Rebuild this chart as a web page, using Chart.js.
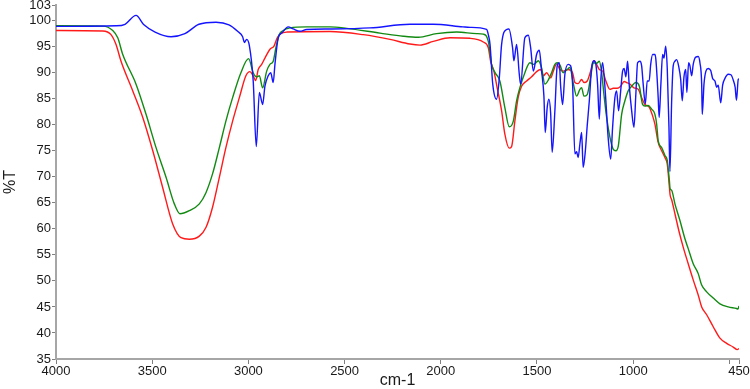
<!DOCTYPE html>
<html>
<head>
<meta charset="utf-8">
<script src="https://cdn.jsdelivr.net/npm/chart.js@4"></script>
<style>
  html, body { margin: 0; padding: 0; background: #fff; }
  #wrap { width: 750px; height: 389px; }
</style>
</head>
<body>
<div id="wrap"><canvas id="ir"></canvas></div>
<script>
// axis ticks
const xTicks = [4000, 3500, 3000, 2500, 2000, 1500, 1000, 500, 450];
const yTicks = [35, 40, 45, 50, 55, 60, 65, 70, 75, 80, 85, 90, 95, 100, 103];

// blue spectrum (wavenumber cm-1, %T)
const blueWn = [4000, 3688, 3641, 3584, 3543, 3485, 3402, 3330, 3257, 3168, 3101, 3056, 3030, 3021, 3009, 2995,
  2975, 2959, 2943, 2926, 2914, 2897, 2884, 2871, 2862, 2845, 2827, 2793, 2767, 2732, 2697, 2576, 2368, 2160,
  2041, 1885, 1848, 1762, 1753, 1744, 1730, 1710, 1696, 1684, 1658, 1646, 1627, 1620, 1606, 1592, 1585, 1563,
  1545, 1533, 1519, 1502, 1488, 1476, 1464, 1457, 1447, 1438, 1429, 1421, 1407, 1395, 1384, 1377, 1367, 1355,
  1338, 1325, 1315, 1303, 1294, 1286, 1277, 1268, 1260, 1249, 1239, 1228, 1216, 1204, 1194, 1185, 1176, 1168,
  1159, 1150, 1142, 1130, 1117, 1107, 1095, 1086, 1076, 1065, 1055, 1047, 1038, 1029, 1021, 1008, 996, 986,
  977, 965, 956, 948, 937, 927, 917, 909, 899, 887, 882, 870, 865, 856, 847, 840, 831, 823, 814, 809, 800, 792,
  783, 774, 764, 753, 745, 736, 727, 721, 712, 705, 696, 688, 675, 662, 653, 644, 641, 632, 622, 610, 597, 587,
  575, 566, 558, 545, 535, 523, 506, 492, 480, 470, 463, 454, 450];
const blueT = [98.9, 99.0, 99.3, 101.0, 99.2, 97.8, 96.9, 97.5, 99.3, 99.7, 99.2, 97.95, 96.9, 95.8, 96.4, 95.2,
  88.4, 75.8, 86.2, 83.9, 87.4, 89.4, 90.0, 88.1, 91.6, 96.7, 97.6, 98.8, 98.4, 97.95, 98.3, 98.4, 98.6, 99.3,
  99.3, 98.8, 98.7, 98.3, 97.3, 95.4, 87.8, 84.9, 88.9, 95.4, 98.3, 98.4, 94.8, 92.3, 95.4, 89.7, 87.8, 96.7,
  97.2, 94.8, 90.3, 93.5, 94.3, 90.3, 85.5, 78.5, 83.3, 84.9, 82.2, 74.7, 82.7, 91.3, 91.9, 87.4, 83.9, 89.7,
  91.6, 91.3, 87.8, 74.4, 74.8, 73.7, 76.3, 78.5, 71.8, 74.8, 79.8, 84.6, 91.0, 92.3, 91.6, 87.8, 81.1, 88.7,
  91.9, 88.9, 84.6, 77.5, 73.4, 79.5, 85.2, 86.5, 82.7, 86.5, 90.3, 90.8, 89.2, 92.2, 87.8, 82.7, 79.5, 86.0,
  91.9, 92.2, 91.3, 87.8, 84.0, 88.4, 88.4, 91.6, 93.5, 93.5, 92.5, 85.2, 81.4, 87.8, 93.5, 92.8, 95.1, 90.9,
  79.5, 71.0, 84.6, 91.3, 92.2, 92.5, 91.3, 88.7, 84.6, 89.2, 90.6, 86.2, 91.9, 91.3, 89.4, 91.6, 93.0, 93.1,
  91.9, 87.8, 82.0, 87.8, 90.3, 90.8, 90.4, 88.9, 88.4, 87.2, 87.6, 84.2, 87.6, 88.9, 89.7, 89.6, 88.6, 87.2,
  84.7, 88.7, 88.8];

// green spectrum
const greenWn = [4000, 3757, 3705, 3679, 3653, 3584, 3532, 3480, 3428, 3385, 3356, 3307, 3255, 3220, 3186, 3151,
  3117, 3082, 3039, 2999, 2975, 2957, 2943, 2926, 2905, 2888, 2871, 2857, 2840, 2819, 2784, 2697, 2576, 2489,
  2316, 2195, 2117, 2022, 1917, 1814, 1779, 1753, 1736, 1718, 1693, 1667, 1644, 1623, 1606, 1589, 1563, 1537,
  1516, 1493, 1476, 1459, 1441, 1424, 1407, 1395, 1381, 1364, 1343, 1329, 1312, 1294, 1277, 1268, 1256, 1239,
  1221, 1207, 1190, 1176, 1164, 1152, 1138, 1121, 1104, 1090, 1077, 1060, 1043, 1026, 1008, 986, 968, 951, 939,
  922, 904, 887, 878, 870, 852, 835, 823, 817, 812, 808, 800, 783, 757, 731, 714, 688, 662, 644, 618, 584, 549,
  506, 463, 455, 450];
const greenT = [99.0, 98.95, 98.1, 96.7, 93.5, 87.8, 82.0, 75.6, 69.9, 64.8, 62.9, 63.5, 64.8, 67.0, 70.6, 75.6,
  80.7, 85.2, 90.0, 92.7, 90.0, 89.2, 89.4, 87.1, 90.3, 91.6, 92.2, 94.8, 97.3, 98.1, 98.6, 98.8, 98.8, 98.5,
  97.6, 97.0, 96.8, 97.5, 97.8, 97.5, 97.4, 96.0, 91.6, 90.0, 88.4, 83.3, 79.6, 80.7, 84.6, 87.1, 90.0, 91.9,
  91.6, 92.3, 90.9, 87.8, 88.6, 90.0, 91.6, 91.9, 91.5, 90.0, 90.6, 91.0, 88.1, 85.5, 86.8, 87.1, 85.5, 85.8,
  89.2, 91.9, 91.8, 92.2, 90.0, 85.8, 81.4, 77.6, 75.3, 75.0, 76.0, 82.0, 84.6, 86.5, 87.4, 88.1, 87.4, 83.9, 83.6,
  83.7, 83.0, 82.0, 80.1, 76.9, 75.6, 74.1, 73.2, 71.2, 69.3, 67.7, 67.4, 64.8, 61.6, 58.1, 56.2, 53.3, 51.4, 49.2,
  47.9, 46.7, 45.6, 45.0, 44.7, 44.6, 45.2];

// red spectrum
const redWn = [4000, 3757, 3714, 3688, 3662, 3601, 3549, 3497, 3446, 3394, 3350, 3307, 3255, 3220, 3186, 3151,
  3117, 3082, 3047, 3013, 2992, 2975, 2962, 2949, 2931, 2914, 2888, 2867, 2850, 2832, 2801, 2576, 2403, 2264,
  2160, 2108, 2039, 1952, 1848, 1779, 1753, 1741, 1724, 1707, 1684, 1667, 1644, 1632, 1615, 1598, 1580, 1554,
  1528, 1502, 1481, 1467, 1450, 1429, 1415, 1398, 1381, 1364, 1338, 1315, 1303, 1286, 1268, 1256, 1239, 1221,
  1204, 1190, 1176, 1159, 1142, 1121, 1104, 1083, 1065, 1047, 1034, 1017, 996, 974, 956, 939, 917, 899, 887, 870,
  852, 835, 823, 816, 808, 800, 783, 761, 740, 714, 688, 662, 644, 618, 584, 549, 514, 480, 459, 450];
const redT = [98.1, 98.0, 97.3, 95.4, 92.2, 86.5, 81.4, 75.0, 68.0, 61.0, 58.3, 58.0, 58.6, 60.3, 64.2, 69.9,
  75.6, 80.7, 85.2, 89.4, 90.2, 89.4, 88.5, 90.6, 91.6, 92.8, 94.5, 95.1, 96.7, 97.5, 97.8, 97.9, 97.3, 96.4,
  95.5, 95.3, 96.0, 96.7, 96.6, 95.9, 94.8, 92.2, 90.3, 87.1, 82.7, 78.2, 75.5, 75.8, 80.7, 85.2, 87.4, 88.4,
  89.2, 90.2, 90.6, 89.4, 90.0, 89.0, 90.3, 91.7, 90.6, 90.3, 90.6, 90.0, 88.1, 87.9, 88.7, 88.1, 88.4, 90.3,
  92.3, 91.6, 90.6, 90.3, 88.4, 86.8, 87.0, 87.0, 87.4, 88.3, 88.1, 87.8, 87.1, 86.8, 85.2, 83.9, 83.4, 81.7, 80.1,
  76.6, 75.0, 73.7, 72.5, 69.9, 66.5, 65.6, 62.9, 59.4, 56.5, 53.3, 50.2, 47.3, 45.0, 43.5, 41.2, 39.0, 38.0, 37.3,
  36.8, 37.0];

function pts(xs, ys) {
  return xs.map((x, i) => ({ x: x, y: ys[i] }));
}

const axisFont = { family: 'Liberation Sans, Arial, sans-serif', size: 13 };
const titleFont = { family: 'Liberation Sans, Arial, sans-serif', size: 16 };

document.addEventListener('DOMContentLoaded', function () {
  const ctx = document.getElementById('ir').getContext('2d');
  const grafica = new Chart(ctx, {
    type: 'line',
    data: {
      datasets: [
        { label: 'blue', data: pts(blueWn, blueT), borderColor: '#1414ff', borderWidth: 1.4 },
        { label: 'green', data: pts(greenWn, greenT), borderColor: '#128a12', borderWidth: 1.4 },
        { label: 'red', data: pts(redWn, redT), borderColor: '#ff1a1a', borderWidth: 1.4 }
      ]
    },
    options: {
      responsive: true,
      maintainAspectRatio: false,
      animation: false,
      events: [],
      elements: {
        point: { radius: 0 },
        line: { cubicInterpolationMode: 'monotone', fill: false }
      },
      layout: { padding: { top: 5, right: 11, bottom: 0, left: 0 } },
      plugins: {
        legend: { display: false },
        tooltip: { enabled: false }
      },
      scales: {
        x: {
          type: 'linear',
          reverse: true,
          min: 450,
          max: 4000,
          afterBuildTicks: function (scale) {
            scale.ticks = xTicks.map(v => ({ value: v }));
          },
          afterFit: function (scale) {
            scale.height = 30;
            scale.paddingLeft = 0;
            scale.paddingRight = 0;
          },
          ticks: {
            autoSkip: false,
            maxRotation: 0,
            padding: 0,
            color: '#1a1a1a',
            font: axisFont,
            callback: function (v) { return v === 500 ? '' : String(v); }
          },
          grid: { drawOnChartArea: false, drawTicks: true, tickLength: 5, color: '#808080' },
          border: { display: true, color: '#a6a6a6', width: 2 },
          title: {
            display: true,
            text: 'cm-1',
            color: '#1a1a1a',
            font: titleFont,
            padding: { top: 0, bottom: -1 }
          }
        },
        y: {
          min: 35,
          max: 103,
          afterBuildTicks: function (scale) {
            scale.ticks = yTicks.map(v => ({ value: v }));
          },
          afterFit: function (scale) {
            scale.width = 56;
            scale.paddingTop = 0;
            scale.paddingBottom = 0;
          },
          ticks: {
            autoSkip: false,
            padding: 1,
            color: '#1a1a1a',
            font: axisFont
          },
          grid: { drawOnChartArea: false, drawTicks: true, tickLength: 4, color: '#808080' },
          border: { display: true, color: '#a6a6a6', width: 2 },
          title: {
            display: true,
            text: '%T',
            color: '#1a1a1a',
            font: titleFont,
            padding: { top: 1, bottom: 0 }
          }
        }
      }
    }
  });
});
</script>
</body>
</html>
